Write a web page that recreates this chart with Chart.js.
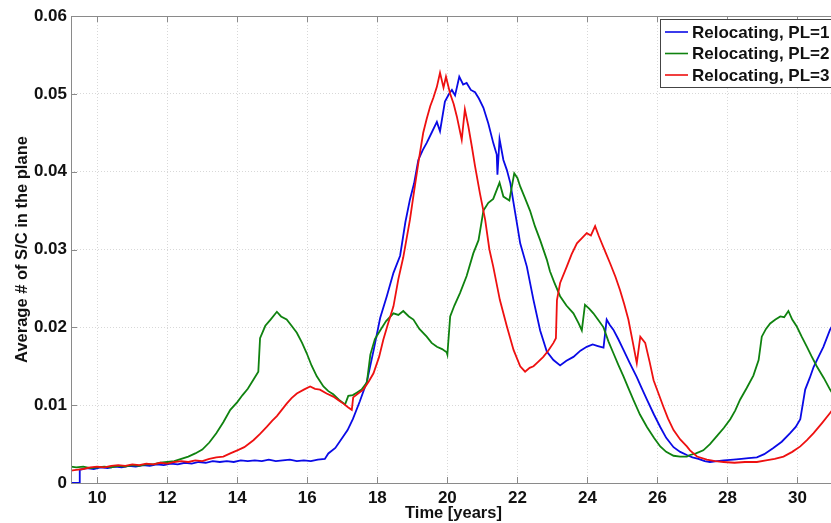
<!DOCTYPE html>
<html>
<head>
<meta charset="utf-8">
<title>Relocating spacecraft in the plane</title>
<script src="https://cdn.jsdelivr.net/npm/chart.js@4/dist/chart.umd.min.js"></script>
<style>
  html, body { margin: 0; padding: 0; background: #fff; overflow: hidden; }
  #wrap { width: 840px; height: 523px; }
</style>
</head>
<body>
<div id="wrap"><canvas id="chart" width="840" height="523"></canvas></div>
<script>
// series labels and colours
const seriesLabels = ["Relocating, PL=1", "Relocating, PL=2", "Relocating, PL=3"];
const seriesColors = ["#0a0ae6", "#0f820f", "#ee1010"];

// axis ticks
const xTicks = [10, 12, 14, 16, 18, 20, 22, 24, 26, 28, 30];
const yTicks = [0, 0.01, 0.02, 0.03, 0.04, 0.05, 0.06];

// PL=1 (blue)
const pl1Time = [9.25, 9.5, 9.5, 9.7, 9.9, 10.1, 10.3, 10.5, 10.7, 10.9, 11.1, 11.3, 11.5, 11.7, 11.9,
  12.1, 12.3, 12.5, 12.7, 12.9, 13.1, 13.3, 13.5, 13.7, 13.9, 14.1, 14.3, 14.5, 14.7, 14.9, 15.1, 15.3,
  15.5, 15.7, 15.9, 16.1, 16.3, 16.5, 16.6, 16.8, 17.0, 17.15, 17.3, 17.5, 17.7, 17.9, 18.08, 18.27,
  18.46, 18.65, 18.8, 18.93, 19.05, 19.17, 19.3, 19.41, 19.55, 19.7, 19.79, 19.93, 20.05, 20.13, 20.22,
  20.34, 20.45, 20.55, 20.67, 20.79, 20.9, 21.03, 21.17, 21.31, 21.41, 21.43, 21.49, 21.6, 21.7, 21.8,
  21.89, 22.0, 22.08, 22.27, 22.46, 22.65, 22.84, 23.03, 23.22, 23.4, 23.6, 23.8, 23.98, 24.15, 24.3,
  24.46, 24.55, 24.64, 24.74, 24.88, 25.03, 25.2, 25.41, 25.55, 25.7, 25.9, 26.08, 26.25, 26.46, 26.65,
  26.84, 27.0, 27.17, 27.35, 27.5, 27.7, 27.9, 28.17, 28.4, 28.6, 28.84, 29.05, 29.31, 29.55, 29.79,
  29.95, 30.08, 30.22, 30.35, 30.46, 30.6, 30.74, 30.93, 31.1];
const pl1Values = [0, 0, 0.0017, 0.0019, 0.0018, 0.0020, 0.0019, 0.0021, 0.0020, 0.0022, 0.0021, 0.0023,
  0.0022, 0.0024, 0.0023, 0.0025, 0.0024, 0.0026, 0.0025, 0.0027, 0.0026, 0.0028, 0.0027, 0.0028, 0.0027,
  0.0029, 0.0028, 0.0029, 0.0028, 0.0030, 0.0028, 0.0029, 0.0030, 0.0028, 0.0029, 0.0028, 0.0030, 0.0031,
  0.0038, 0.0045, 0.0058, 0.0068, 0.0082, 0.0105, 0.0130, 0.0172, 0.0212, 0.0240, 0.0270, 0.0292, 0.0335,
  0.0364, 0.0385, 0.0415, 0.0428, 0.0437, 0.0450, 0.0464, 0.0452, 0.0490, 0.0500, 0.0505, 0.0498, 0.0522,
  0.0512, 0.0514, 0.0505, 0.0502, 0.0494, 0.0482, 0.0462, 0.0437, 0.0422, 0.0396, 0.0442, 0.0415, 0.0402,
  0.0385, 0.0360, 0.0330, 0.0308, 0.0278, 0.0235, 0.0196, 0.0169, 0.0158, 0.0151, 0.0157, 0.0162, 0.0170,
  0.0175, 0.0178, 0.0176, 0.0174, 0.0210, 0.0203, 0.0197, 0.0185, 0.0171, 0.0155, 0.0136, 0.0122, 0.0107,
  0.0088, 0.0072, 0.0058, 0.0046, 0.0040, 0.0036, 0.0033, 0.0031, 0.0028, 0.0027, 0.0028, 0.0029, 0.0030,
  0.0031, 0.0032, 0.0033, 0.0037, 0.0045, 0.0053, 0.0064, 0.0072, 0.0082, 0.0120, 0.0135, 0.0149, 0.0162,
  0.0175, 0.0197, 0.0210];

// PL=2 (green)
const pl2Time = [9.25, 9.4, 9.6, 9.8, 10.0, 10.2, 10.4, 10.6, 10.8, 11.0, 11.2, 11.4, 11.6, 11.8, 12.0,
  12.2, 12.4, 12.6, 12.8, 13.0, 13.2, 13.4, 13.6, 13.8, 14.0, 14.15, 14.3, 14.45, 14.6, 14.65, 14.8,
  14.95, 15.13, 15.25, 15.41, 15.55, 15.7, 15.85, 15.98, 16.12, 16.27, 16.46, 16.6, 16.74, 16.9, 17.08,
  17.17, 17.3, 17.41, 17.55, 17.7, 17.8, 17.93, 18.08, 18.25, 18.46, 18.6, 18.74, 18.9, 19.03, 19.2,
  19.41, 19.55, 19.7, 19.85, 19.98, 20.0, 20.08, 20.2, 20.36, 20.55, 20.74, 20.89, 21.03, 21.17, 21.31,
  21.49, 21.6, 21.77, 21.91, 22.0, 22.08, 22.2, 22.36, 22.5, 22.65, 22.84, 22.93, 23.05, 23.22, 23.4,
  23.6, 23.75, 23.84, 23.93, 24.05, 24.17, 24.3, 24.46, 24.6, 24.74, 24.88, 25.03, 25.17, 25.31, 25.5,
  25.7, 25.9, 26.08, 26.25, 26.46, 26.65, 26.84, 26.93, 27.1, 27.31, 27.5, 27.69, 27.9, 28.08, 28.22,
  28.36, 28.55, 28.74, 28.89, 28.98, 29.1, 29.22, 29.37, 29.51, 29.62, 29.74, 29.85, 29.98, 30.12, 30.27,
  30.4, 30.55, 30.75, 30.93, 31.1];
const pl2Values = [0.0021, 0.0020, 0.0021, 0.0019, 0.0020, 0.0021, 0.0020, 0.0022, 0.0021, 0.0023, 0.0022,
  0.0024, 0.0024, 0.0026, 0.0027, 0.0028, 0.0031, 0.0034, 0.0038, 0.0043, 0.0052, 0.0064, 0.0078, 0.0094,
  0.0104, 0.0113, 0.0121, 0.0132, 0.0143, 0.0186, 0.0202, 0.0210, 0.0220, 0.0214, 0.0210, 0.0202, 0.0193,
  0.0180, 0.0167, 0.0151, 0.0137, 0.0124, 0.0118, 0.0114, 0.0107, 0.0101, 0.0112, 0.0113, 0.0116, 0.0120,
  0.0129, 0.0165, 0.0185, 0.0196, 0.0208, 0.0218, 0.0216, 0.0221, 0.0214, 0.0210, 0.0198, 0.0188, 0.0180,
  0.0175, 0.0172, 0.0168, 0.0165, 0.0214, 0.0228, 0.0244, 0.0266, 0.0295, 0.0312, 0.0350, 0.0360, 0.0365,
  0.0386, 0.0368, 0.0363, 0.0398, 0.0392, 0.0381, 0.0368, 0.0350, 0.0330, 0.0312, 0.0287, 0.0272, 0.0258,
  0.0240, 0.0228, 0.0218, 0.0205, 0.0196, 0.0229, 0.0224, 0.0218, 0.0210, 0.0200, 0.0182, 0.0167, 0.0152,
  0.0137, 0.0122, 0.0107, 0.0088, 0.0072, 0.0058, 0.0047, 0.0040, 0.0035, 0.0034, 0.0034, 0.0036, 0.0038,
  0.0042, 0.0050, 0.0060, 0.0071, 0.0082, 0.0093, 0.0107, 0.0122, 0.0138, 0.0158, 0.0188, 0.0198, 0.0205,
  0.0210, 0.0214, 0.0213, 0.0221, 0.0210, 0.0201, 0.0188, 0.0175, 0.0163, 0.0150, 0.0135, 0.0120, 0.0108];

// PL=3 (red)
const pl3Time = [9.25, 9.4, 9.6, 9.8, 10.0, 10.2, 10.4, 10.6, 10.8, 11.0, 11.2, 11.4, 11.6, 11.8, 12.0,
  12.2, 12.4, 12.6, 12.8, 13.0, 13.2, 13.4, 13.6, 13.8, 14.0, 14.2, 14.46, 14.65, 14.84, 15.0, 15.13,
  15.27, 15.41, 15.55, 15.7, 15.9, 16.08, 16.22, 16.36, 16.55, 16.74, 16.9, 17.03, 17.17, 17.27, 17.31,
  17.45, 17.6, 17.75, 17.89, 18.05, 18.17, 18.3, 18.46, 18.6, 18.74, 18.93, 19.05, 19.17, 19.31, 19.41,
  19.51, 19.6, 19.7, 19.79, 19.89, 19.96, 20.08, 20.18, 20.27, 20.41, 20.5, 20.6, 20.7, 20.79, 20.93,
  21.08, 21.2, 21.31, 21.5, 21.7, 21.89, 22.08, 22.22, 22.35, 22.46, 22.6, 22.74, 22.88, 23.03, 23.1,
  23.13, 23.22, 23.41, 23.55, 23.7, 23.85, 23.98, 24.1, 24.22, 24.32, 24.41, 24.53, 24.65, 24.8, 24.93,
  25.05, 25.17, 25.3, 25.41, 25.51, 25.65, 25.78, 25.89, 26.03, 26.17, 26.3, 26.46, 26.65, 26.84, 26.93,
  27.13, 27.41, 27.65, 27.89, 28.2, 28.5, 28.84, 29.1, 29.35, 29.6, 29.85, 30.08, 30.27, 30.46, 30.7,
  30.93, 31.1];
const pl3Values = [0.0016, 0.0017, 0.0018, 0.0020, 0.0021, 0.0020, 0.0022, 0.0023, 0.0022, 0.0024, 0.0023,
  0.0025, 0.0024, 0.0026, 0.0025, 0.0027, 0.0028, 0.0027, 0.0029, 0.0028, 0.0031, 0.0033, 0.0034, 0.0038,
  0.0042, 0.0046, 0.0055, 0.0063, 0.0072, 0.0080, 0.0086, 0.0094, 0.0102, 0.0109, 0.0115, 0.0120, 0.0124,
  0.0121, 0.0120, 0.0115, 0.0111, 0.0106, 0.0102, 0.0097, 0.0094, 0.0110, 0.0115, 0.0120, 0.0130, 0.0141,
  0.0162, 0.0184, 0.0204, 0.0227, 0.0262, 0.0290, 0.0338, 0.0375, 0.0411, 0.0450, 0.0468, 0.0484, 0.0495,
  0.0509, 0.0527, 0.0508, 0.0522, 0.0500, 0.0487, 0.0471, 0.0441, 0.0480, 0.0458, 0.0432, 0.0407, 0.0372,
  0.0338, 0.0300, 0.0278, 0.0235, 0.0201, 0.0171, 0.0150, 0.0143, 0.0148, 0.0150, 0.0156, 0.0162, 0.0170,
  0.0180, 0.0186, 0.0235, 0.0257, 0.0278, 0.0294, 0.0308, 0.0315, 0.0321, 0.0318, 0.0330, 0.0318, 0.0308,
  0.0295, 0.0282, 0.0265, 0.0248, 0.0230, 0.0210, 0.0180, 0.0154, 0.0188, 0.0180, 0.0155, 0.0132, 0.0115,
  0.0098, 0.0083, 0.0068, 0.0056, 0.0047, 0.0042, 0.0034, 0.0030, 0.0028, 0.0027, 0.0026, 0.0027, 0.0027,
  0.0029, 0.0031, 0.0034, 0.0040, 0.0047, 0.0055, 0.0064, 0.0077, 0.0090, 0.0100];

const FONT = "'Liberation Sans', Arial, Helvetica, sans-serif";

function toPoints(times, values) {
  return times.map((t, i) => ({ x: t, y: values[i] }));
}

//box around the plot with inward ticks, like matlab
const boxPlugin = {
  id: "box",
  afterDatasetsDraw(chart) {
    const { ctx, chartArea: a, scales } = chart;
    ctx.save();
    ctx.strokeStyle = "#8a8a8a";
    ctx.lineWidth = 1;
    ctx.strokeRect(Math.round(a.left) + 0.5, Math.round(a.top) + 0.5,
      Math.round(a.right - a.left), Math.round(a.bottom - a.top));
    ctx.beginPath();
    for (const v of xTicks) {
      const x = Math.round(scales.x.getPixelForValue(v)) + 0.5;
      ctx.moveTo(x, a.bottom); ctx.lineTo(x, a.bottom - 6);
      ctx.moveTo(x, a.top); ctx.lineTo(x, a.top + 6);
    }
    for (const v of yTicks) {
      const y = Math.round(scales.y.getPixelForValue(v)) + 0.5;
      ctx.moveTo(a.left, y); ctx.lineTo(a.left + 6, y);
    }
    ctx.stroke();
    ctx.restore();
  },
};

//legend box in the top right corner
const legendPlugin = {
  id: "matlabLegend",
  afterDraw(chart) {
    const ctx = chart.ctx;
    const left = 660.5, top = 19.5, w = 200, rowH = 21.5;
    ctx.save();
    ctx.fillStyle = "#fff";
    ctx.fillRect(left, top, w, 68);
    ctx.strokeStyle = "#444";
    ctx.lineWidth = 1;
    ctx.strokeRect(left, top, w, 68);
    ctx.font = "bold 17px " + FONT;
    ctx.textBaseline = "middle";
    chart.data.datasets.forEach((ds, i) => {
      const y = top + 12.5 + i * rowH;
      ctx.strokeStyle = ds.borderColor;
      ctx.lineWidth = 1.6;
      ctx.beginPath();
      ctx.moveTo(665, y); ctx.lineTo(688, y);
      ctx.stroke();
      ctx.fillStyle = "#111";
      ctx.fillText(ds.label, 692, y + 1);
    });
    ctx.restore();
  },
};

const datasets = [
  { label: seriesLabels[0], data: toPoints(pl1Time, pl1Values), borderColor: seriesColors[0], order: 2 },
  { label: seriesLabels[1], data: toPoints(pl2Time, pl2Values), borderColor: seriesColors[1], order: 1 },
  { label: seriesLabels[2], data: toPoints(pl3Time, pl3Values), borderColor: seriesColors[2], order: 0 },
].map((d) => ({ ...d, borderWidth: 1.8, pointRadius: 0, tension: 0, fill: false }));

const myChart = new Chart(document.getElementById("chart"), {
  type: "line",
  data: { datasets },
  plugins: [boxPlugin, legendPlugin],
  options: {
    responsive: false,
    animation: false,
    layout: { padding: { top: 16, right: 4, left: 0, bottom: 0 } },
    plugins: { legend: { display: false }, tooltip: { enabled: false } },
    scales: {
      x: {
        type: "linear",
        min: 9.25,
        max: 31.1,
        afterBuildTicks: (scale) => { scale.ticks = xTicks.map((v) => ({ value: v })); },
        afterFit: (scale) => { scale.height = 40; },
        grid: { color: "#d8d8d8", lineWidth: 1, drawTicks: false },
        border: { display: false, dash: [1, 2] },
        ticks: {
          padding: 5,
          color: "#111",
          font: { family: FONT, size: 17, weight: "bold" },
          maxRotation: 0,
          callback: (v) => String(v),
        },
        title: {
          display: true,
          text: "Time [years]",
          color: "#111",
          font: { family: FONT, size: 16.5, weight: "bold" },
          padding: { top: 0, bottom: 0 },
        },
      },
      y: {
        type: "linear",
        min: 0,
        max: 0.06,
        afterBuildTicks: (scale) => { scale.ticks = yTicks.map((v) => ({ value: v })); },
        afterFit: (scale) => { scale.width = 71; },
        grid: { color: "#d8d8d8", lineWidth: 1, drawTicks: false },
        border: { display: false, dash: [1, 2] },
        ticks: {
          padding: 4,
          color: "#111",
          font: { family: FONT, size: 17, weight: "bold" },
          callback: (v) => (v === 0 ? "0" : v.toFixed(2)),
        },
        title: {
          display: true,
          text: "Average # of S/C in the plane",
          color: "#111",
          font: { family: FONT, size: 16.5, weight: "bold" },
          padding: { top: 13, bottom: 0 },
        },
      },
    },
  },
});
</script>
</body>
</html>
